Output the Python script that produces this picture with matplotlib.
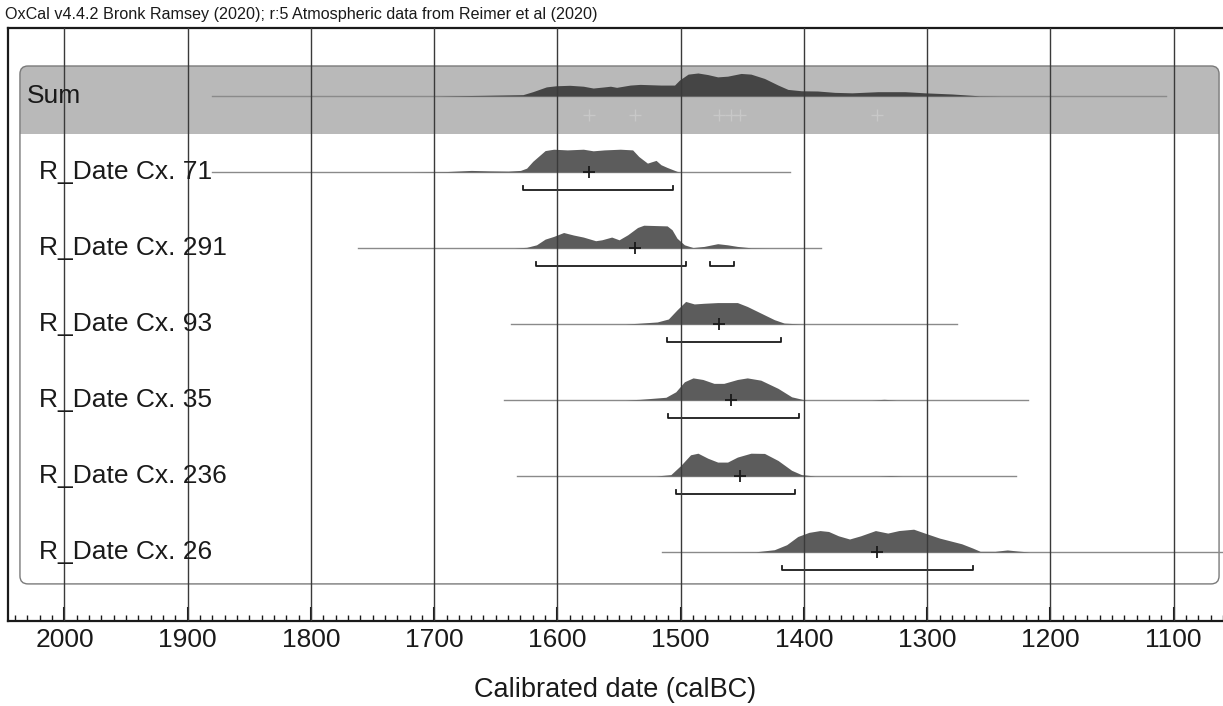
import matplotlib.pyplot as plt
import matplotlib.patches as mpatches
import matplotlib.transforms as mtransforms
from matplotlib.ticker import MultipleLocator
import numpy as np

plt.rcParams['font.family'] = ['Liberation Sans', 'DejaVu Sans']

title = 'OxCal v4.4.2 Bronk Ramsey (2020); r:5 Atmospheric data from Reimer et al (2020)'
labels = ['Sum', 'R_Date Cx. 71', 'R_Date Cx. 291', 'R_Date Cx. 93',
          'R_Date Cx. 35', 'R_Date Cx. 236', 'R_Date Cx. 26']

# probability curves (calBC, relative height)
sum_yr = [1700, 1660, 1628, 1620, 1609, 1601, 1590, 1579, 1571, 1562, 1557, 1552, 1541, 1533,
          1516, 1505, 1501, 1494, 1486, 1478, 1470, 1462, 1451, 1443, 1432, 1421, 1413, 1402,
          1389, 1375, 1361, 1340, 1318, 1302, 1280, 1258, 1240]
sum_p = [0, 0.03, 0.06, 0.19, 0.4, 0.45, 0.47, 0.43, 0.35, 0.4, 0.43, 0.38, 0.48, 0.51,
         0.48, 0.48, 0.7, 0.96, 1.01, 0.94, 0.84, 0.87, 0.99, 0.96, 0.77, 0.48, 0.29, 0.23,
         0.22, 0.16, 0.14, 0.19, 0.19, 0.14, 0.09, 0.01, 0]

cx71_yr = [1720, 1690, 1670, 1655, 1640, 1630, 1625, 1620, 1610, 1603, 1592, 1579, 1571, 1562,
           1549, 1539, 1534, 1527, 1520, 1516, 1511, 1503, 1500]
cx71_p = [0, 0.02, 0.07, 0.05, 0.04, 0.07, 0.17, 0.47, 0.94, 1.0, 0.97, 1.0, 0.93, 0.97,
          1.0, 0.97, 0.68, 0.39, 0.51, 0.32, 0.2, 0.03, 0]

cx291_yr = [1635, 1625, 1617, 1610, 1603, 1595, 1587, 1579, 1569, 1564, 1556, 1550, 1543, 1535,
            1530, 1511, 1507, 1503, 1497, 1490, 1481, 1470, 1462, 1454, 1443, 1429]
cx291_p = [0, 0.03, 0.14, 0.39, 0.51, 0.68, 0.57, 0.48, 0.32, 0.36, 0.48, 0.36, 0.58, 0.9,
           1.0, 0.97, 0.8, 0.43, 0.14, 0.02, 0.07, 0.19, 0.14, 0.07, 0.01, 0]

cx93_yr = [1545, 1535, 1519, 1510, 1503, 1496, 1489, 1481, 1470, 1454, 1446, 1435, 1424, 1416, 1402]
cx93_p = [0, 0.03, 0.09, 0.22, 0.62, 0.99, 0.88, 0.91, 0.94, 0.94, 0.77, 0.48, 0.19, 0.04, 0]

cx35_yr = [1545, 1533, 1512, 1504, 1497, 1490, 1482, 1473, 1465, 1454, 1446, 1435, 1421, 1410,
           1399, 1345, 1335, 1325]
cx35_p = [0, 0.03, 0.12, 0.36, 0.8, 0.97, 0.9, 0.73, 0.73, 0.9, 0.97, 0.87, 0.51, 0.14,
          0, 0, 0.03, 0]

cx236_yr = [1520, 1508, 1500, 1492, 1486, 1478, 1470, 1462, 1454, 1443, 1432, 1421, 1410, 1402,
            1391, 1340, 1330, 1320]
cx236_p = [0, 0.06, 0.46, 0.93, 1.0, 0.78, 0.61, 0.61, 0.83, 1.0, 0.99, 0.68, 0.25, 0.06,
           0, 0, 0.02, 0]

cx26_yr = [1460, 1439, 1424, 1414, 1405, 1396, 1387, 1380, 1372, 1363, 1354, 1342, 1332, 1323,
           1311, 1302, 1290, 1272, 1263, 1257, 1245, 1235, 1226, 1217]
cx26_p = [0, 0.01, 0.1, 0.32, 0.68, 0.86, 0.94, 0.9, 0.71, 0.57, 0.71, 0.94, 0.83, 0.94,
          1.0, 0.83, 0.61, 0.36, 0.17, 0.03, 0.03, 0.09, 0.04, 0]

curves_yr = [sum_yr, cx71_yr, cx291_yr, cx93_yr, cx35_yr, cx236_yr, cx26_yr]
curves_p = [sum_p, cx71_p, cx291_p, cx93_p, cx35_p, cx236_p, cx26_p]

# extent of the thin line under each curve
line_start = [1880, 1880, 1762, 1638, 1643, 1633, 1515]
line_end = [1106, 1411, 1386, 1276, 1218, 1228, 1040]

# means (+) and 95.4% ranges
means = [None, 1574, 1537, 1469, 1459, 1452, 1341]
ranges = [[],
          [(1628, 1506)],
          [(1617, 1496), (1476, 1457)],
          [(1511, 1419)],
          [(1510, 1404)],
          [(1504, 1407)],
          [(1418, 1263)]]

fig = plt.figure(figsize=(12.23, 7.06), dpi=100)
ax = fig.add_axes([8 / 1223, 85 / 706, 1215 / 1223, 593 / 706])
ax.set_xlim(2045.8, 1060)
ax.set_ylim(6.908, -0.895)

scale = 0.30
ink = '#1a1a1a'

# rounded frame with the grey Sum band
box_x0, box_x1 = 2036.1, 1063.2
box_y0, box_y1 = -0.395, 6.42
asp = 1.2325 / 76
band = mpatches.FancyBboxPatch((box_x1, box_y0), box_x0 - box_x1, 1.2,
                               boxstyle='round,pad=0,rounding_size=6.5', mutation_aspect=asp,
                               fc='#b9b9b9', ec='none', zorder=1)
ax.add_patch(band)
ax.add_patch(mpatches.Rectangle((box_x1, 0.5), box_x0 - box_x1, 0.9, fc='white', ec='none', zorder=1.1))
frame = mpatches.FancyBboxPatch((box_x1, box_y0), box_x0 - box_x1, box_y1 - box_y0,
                                boxstyle='round,pad=0,rounding_size=6.5', mutation_aspect=asp,
                                fc='none', ec='#7a7a7a', lw=1.0, zorder=1.2)
ax.add_patch(frame)

lab_tr = mtransforms.blended_transform_factory(ax.transAxes, ax.transData)

for i in range(len(labels)):
    fill_col = '#454545' if i == 0 else '#5c5c5c'
    ax.plot([line_start[i], line_end[i]], [i, i], color='#8a8a8a', lw=1.0, zorder=2)
    yr = np.array(curves_yr[i])
    p = np.array(curves_p[i])
    ax.fill_between(yr, i, i - p * scale, color=fill_col, lw=0, zorder=3)
    if means[i] is not None:
        ax.plot(means[i], i, marker='+', ms=9, mew=1.3, color=ink, zorder=4)
        ax.plot(means[i], 0.25, marker='+', ms=9, mew=1.0, color='#c8c8c8', zorder=4)
    for a, b in ranges[i]:
        yb = i + 0.24
        ax.plot([a, a, b, b], [yb - 0.05, yb, yb, yb - 0.05], color=ink, lw=1.3, zorder=4)
    xl = 0.0156 if i == 0 else 0.0255
    ax.text(xl, i, labels[i], transform=lab_tr, fontsize=19, va='center', ha='left',
            color=ink, zorder=7)

for yr in range(1100, 2001, 100):
    ax.axvline(yr, color='#3a3a3a', lw=1.0, zorder=6)

ax.set_xticks(range(1100, 2001, 100))
ax.xaxis.set_minor_locator(MultipleLocator(10))
ax.tick_params(axis='x', which='major', direction='in', length=10, width=1.5,
               labelsize=19, pad=5, colors=ink)
ax.tick_params(axis='x', which='minor', direction='in', length=4.5, width=1.0, colors=ink)
ax.set_yticks([])
for s in ['left', 'top', 'bottom']:
    ax.spines[s].set_linewidth(1.6)
    ax.spines[s].set_color(ink)
ax.spines['right'].set_visible(False)
ax.set_xlabel('Calibrated date (calBC)', fontsize=19.5, labelpad=18, color=ink)

fig.text(5 / 1223, 1 - 14 / 706, title, fontsize=11.6, va='center', ha='left', color=ink)

fig.savefig('out.png', dpi=100, facecolor='white')
